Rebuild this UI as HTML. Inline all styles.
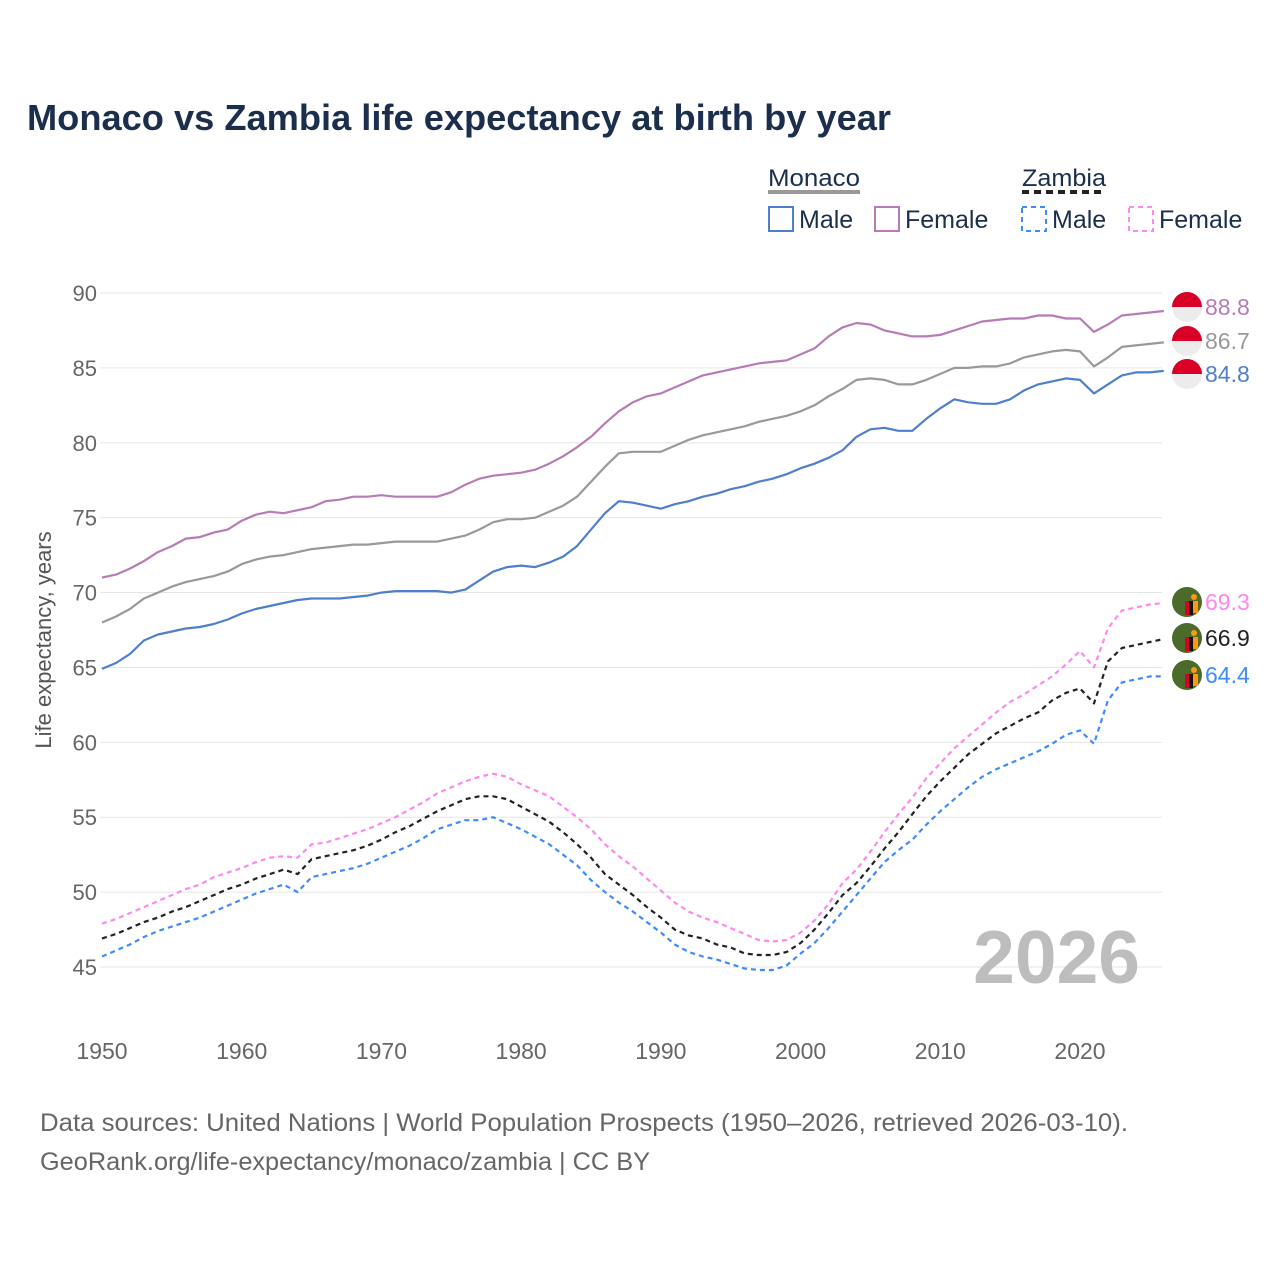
<!DOCTYPE html>
<html><head><meta charset="utf-8"><style>
html,body{margin:0;padding:0;background:#fff}
svg{display:block;font-family:"Liberation Sans",sans-serif}
</style></head><body>
<svg id="chart" width="1280" height="1280" viewBox="0 0 1280 1280">
<text x="27" y="130" font-size="36" font-weight="bold" fill="#1b2f4d" textLength="864" lengthAdjust="spacingAndGlyphs">Monaco vs Zambia life expectancy at birth by year</text>
<g>
<text x="768" y="186" font-size="24" fill="#1b2f4d" textLength="92" lengthAdjust="spacingAndGlyphs">Monaco</text>
<line x1="768" y1="192" x2="860" y2="192" stroke="#999" stroke-width="4"/>
<text x="1022" y="186" font-size="24" fill="#1b2f4d" textLength="84" lengthAdjust="spacingAndGlyphs">Zambia</text>
<line x1="1022" y1="192" x2="1106" y2="192" stroke="#222" stroke-width="4" stroke-dasharray="7,5"/>
<rect x="769" y="207" width="24" height="24" fill="none" stroke="#4f7fcc" stroke-width="2"/>
<text x="799" y="228" font-size="25" fill="#1b2f4d">Male</text>
<rect x="875" y="207" width="24" height="24" fill="none" stroke="#b77bb5" stroke-width="2"/>
<text x="905" y="228" font-size="25" fill="#1b2f4d">Female</text>
<rect x="1022" y="207" width="24" height="24" fill="none" stroke="#3d8bff" stroke-width="2" stroke-dasharray="5,4"/>
<text x="1052" y="228" font-size="25" fill="#1b2f4d">Male</text>
<rect x="1129" y="207" width="24" height="24" fill="none" stroke="#ff88ee" stroke-width="2" stroke-dasharray="5,4"/>
<text x="1159" y="228" font-size="25" fill="#1b2f4d">Female</text>
</g>
<g id="grid"></g>
<g id="axes"></g>
<text x="1140" y="983" font-size="75" font-weight="bold" fill="#bdbdbd" text-anchor="end">2026</text>
<g id="series"></g>
<g id="endlabels"></g>
<text transform="translate(51,640) rotate(-90)" font-size="22" fill="#555" text-anchor="middle">Life expectancy, years</text>
<text x="40" y="1131" font-size="25" fill="#666" textLength="1088" lengthAdjust="spacingAndGlyphs">Data sources: United Nations | World Population Prospects (1950–2026, retrieved 2026-03-10).</text>
<text x="40" y="1170" font-size="25" fill="#666" textLength="610" lengthAdjust="spacingAndGlyphs">GeoRank.org/life-expectancy/monaco/zambia | CC BY</text>
</svg>
<script>
const yTicks=[45,50,55,60,65,70,75,80,85,90];
const xTicks=[1950,1960,1970,1980,1990,2000,2010,2020];
const startYear=1950;
const monacoFemale=[71.0,71.2,71.6,72.1,72.7,73.1,73.6,73.7,74.0,74.2,74.8,75.2,75.4,75.3,75.5,75.7,76.1,76.2,76.4,76.4,76.5,76.4,76.4,76.4,76.4,76.7,77.2,77.6,77.8,77.9,78.0,78.2,78.6,79.1,79.7,80.4,81.3,82.1,82.7,83.1,83.3,83.7,84.1,84.5,84.7,84.9,85.1,85.3,85.4,85.5,85.9,86.3,87.1,87.7,88.0,87.9,87.5,87.3,87.1,87.1,87.2,87.5,87.8,88.1,88.2,88.3,88.3,88.5,88.5,88.3,88.3,87.4,87.9,88.5,88.6,88.7,88.8];
const monacoTotal=[68.0,68.4,68.9,69.6,70.0,70.4,70.7,70.9,71.1,71.4,71.9,72.2,72.4,72.5,72.7,72.9,73.0,73.1,73.2,73.2,73.3,73.4,73.4,73.4,73.4,73.6,73.8,74.2,74.7,74.9,74.9,75.0,75.4,75.8,76.4,77.4,78.4,79.3,79.4,79.4,79.4,79.8,80.2,80.5,80.7,80.9,81.1,81.4,81.6,81.8,82.1,82.5,83.1,83.6,84.2,84.3,84.2,83.9,83.9,84.2,84.6,85.0,85.0,85.1,85.1,85.3,85.7,85.9,86.1,86.2,86.1,85.1,85.7,86.4,86.5,86.6,86.7];
const monacoMale=[64.9,65.3,65.9,66.8,67.2,67.4,67.6,67.7,67.9,68.2,68.6,68.9,69.1,69.3,69.5,69.6,69.6,69.6,69.7,69.8,70.0,70.1,70.1,70.1,70.1,70.0,70.2,70.8,71.4,71.7,71.8,71.7,72.0,72.4,73.1,74.2,75.3,76.1,76.0,75.8,75.6,75.9,76.1,76.4,76.6,76.9,77.1,77.4,77.6,77.9,78.3,78.6,79.0,79.5,80.4,80.9,81.0,80.8,80.8,81.6,82.3,82.9,82.7,82.6,82.6,82.9,83.5,83.9,84.1,84.3,84.2,83.3,83.9,84.5,84.7,84.7,84.8];
const zambiaFemale=[47.9,48.2,48.6,49.0,49.4,49.8,50.2,50.5,51.0,51.3,51.6,52.0,52.3,52.4,52.3,53.2,53.3,53.6,53.9,54.2,54.6,55.0,55.5,56.0,56.6,57.0,57.4,57.7,57.9,57.7,57.2,56.8,56.4,55.7,55.0,54.2,53.2,52.4,51.7,50.9,50.1,49.3,48.7,48.3,48.0,47.6,47.2,46.8,46.7,46.8,47.3,48.1,49.2,50.6,51.5,52.7,54.0,55.2,56.3,57.6,58.6,59.6,60.4,61.2,62.0,62.7,63.2,63.8,64.4,65.2,66.1,65.0,67.6,68.8,69.0,69.2,69.3];
const zambiaTotal=[46.9,47.2,47.6,48.0,48.3,48.7,49.0,49.4,49.8,50.2,50.5,50.9,51.2,51.5,51.2,52.2,52.4,52.6,52.8,53.1,53.5,54.0,54.4,54.9,55.4,55.8,56.2,56.4,56.4,56.2,55.7,55.2,54.7,54.0,53.2,52.3,51.2,50.5,49.8,49.0,48.3,47.5,47.1,46.9,46.5,46.3,45.9,45.8,45.8,46.0,46.6,47.5,48.6,49.8,50.6,51.7,52.9,54.0,55.2,56.4,57.4,58.3,59.2,59.9,60.6,61.1,61.6,62.0,62.8,63.3,63.6,62.6,65.4,66.3,66.5,66.7,66.9];
const zambiaMale=[45.7,46.1,46.5,47.0,47.4,47.7,48.0,48.3,48.7,49.1,49.5,49.9,50.2,50.5,50.0,51.0,51.2,51.4,51.6,51.9,52.3,52.7,53.1,53.6,54.2,54.5,54.8,54.8,55.0,54.6,54.2,53.7,53.2,52.5,51.8,50.8,50.0,49.3,48.7,48.0,47.3,46.5,46.0,45.7,45.5,45.2,44.9,44.8,44.8,45.1,45.9,46.6,47.6,48.7,49.8,50.9,52.0,52.8,53.5,54.5,55.4,56.2,57.0,57.7,58.2,58.6,59.0,59.4,59.9,60.5,60.8,59.9,62.8,64.0,64.2,64.4,64.4];
const endLabels=["88.8","86.7","84.8","69.3","66.9","64.4"];

const NS="http://www.w3.org/2000/svg";
function xs(yr){return 102+(yr-1950)*(1080-102)/70;}
function ys(v){return 967-(v-45)*(967-293)/45;}
function mk(tag,attrs,parent){const e=document.createElementNS(NS,tag);for(const k in attrs)e.setAttribute(k,attrs[k]);parent.appendChild(e);return e;}
const grid=document.getElementById('grid'),axes=document.getElementById('axes'),series=document.getElementById('series'),endG=document.getElementById('endlabels');
yTicks.forEach(t=>{
  const l=mk('line',{x1:100,x2:1162,y1:ys(t),y2:ys(t),stroke:'#e6e6e6','stroke-width':1},grid);
  
  
  const tx=mk('text',{x:97,y:ys(t)+8,'font-size':22,fill:'#666','text-anchor':'end'},axes);
  tx.textContent=t;
  
  
});
xTicks.forEach(t=>{
  const tx=mk('text',{x:xs(t),y:1059,'font-size':23,fill:'#666','text-anchor':'middle'},axes);
  tx.textContent=t;
  
  
});
const defs=[
 [monacoFemale,'#b77bb5',null,'monaco-female','mc'],
 [monacoTotal,'#999999',null,'monaco-total','mc'],
 [monacoMale,'#4f7fcc',null,'monaco-male','mc'],
 [zambiaFemale,'#ff88ee','5,4','zambia-female','zm'],
 [zambiaTotal,'#222222','5,4','zambia-total','zm'],
 [zambiaMale,'#3d8bff','5,4','zambia-male','zm']];
const labelY=[307,341,374,602,638,675];
defs.forEach((d,i)=>{
  const arr=d[0];
  const pts=arr.map((v,j)=>xs(startYear+j).toFixed(1)+','+ys(v).toFixed(1)).join(' ');
  const p=mk('polyline',{points:pts,fill:'none',stroke:d[1],'stroke-width':2.2,'stroke-linejoin':'round'},series);
  if(d[2])p.setAttribute('stroke-dasharray',d[2]);
  
  
  const cy=labelY[i],cx=1187;
  const g=mk('g',{},endG);
  
  
  if(d[4]==='mc'){
    mk('circle',{cx:cx,cy:cy,r:15,fill:'#ececec'},g);
    mk('path',{d:`M${cx-15},${cy} A15,15 0 0 1 ${cx+15},${cy} Z`,fill:'#d80027'},g);
  }else{
    mk('circle',{cx:cx,cy:cy,r:15,fill:'#4a6b2a'},g);
    mk('rect',{x:cx-2,y:cy-1,width:4,height:14,fill:'#d80027'},g);
    mk('rect',{x:cx+2,y:cy-1,width:4,height:14,fill:'#111'},g);
    mk('rect',{x:cx+6,y:cy-1,width:5,height:12,fill:'#ff9811'},g);
    mk('circle',{cx:cx+7,cy:cy-5,r:3,fill:'#ff9811'},g);
  }
  const t=mk('text',{x:1205,y:cy+8,'font-size':23,fill:d[1]},endG);
  t.textContent=endLabels[i];
  
  
});
</script>
</body></html>
